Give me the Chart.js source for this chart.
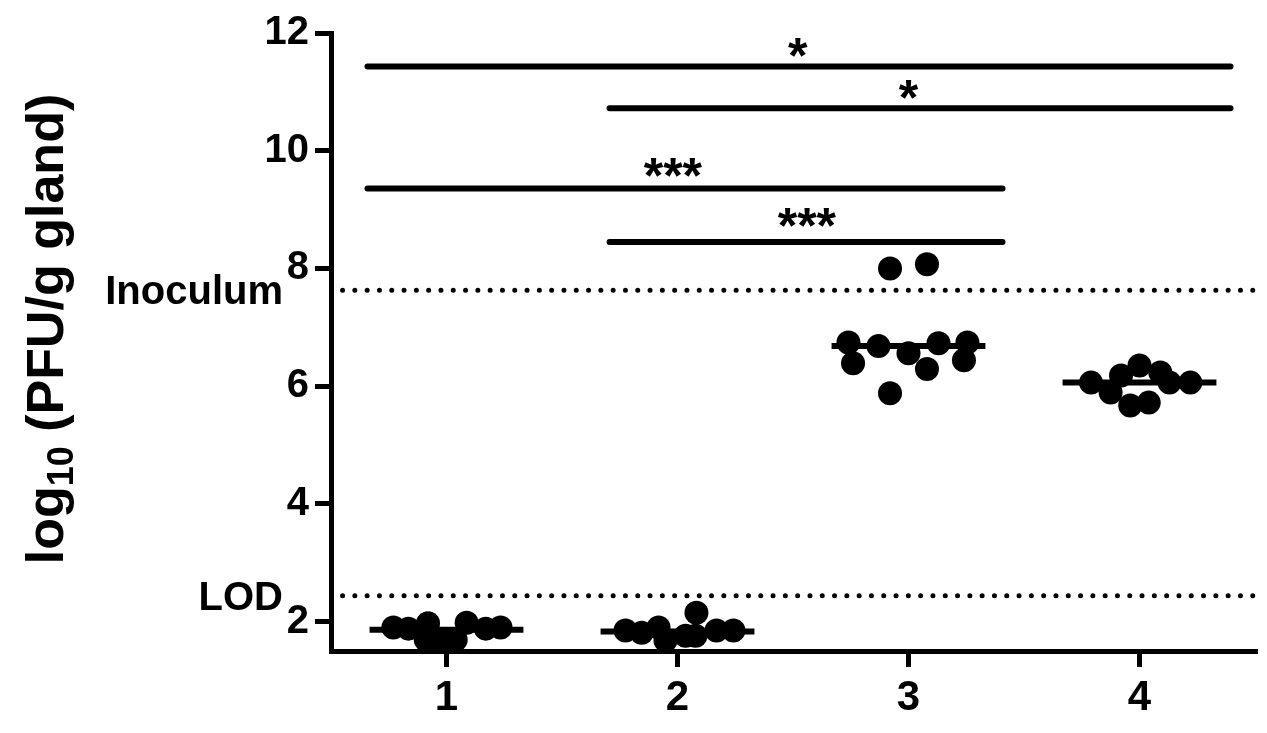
<!DOCTYPE html>
<html>
<head>
<meta charset="utf-8">
<script src="https://cdn.jsdelivr.net/npm/chart.js@4.4.0/dist/chart.umd.min.js"></script>
<style>
  html, body { margin: 0; padding: 0; background: #fff; }
</style>
</head>
<body>
<canvas id="chart" width="1267" height="733"></canvas>
<script>
const FAMILY = '"Liberation Sans", Arial, sans-serif';

// categories and axis ticks
const groups = [1, 2, 3, 4];
const yTicks = [2, 4, 6, 8, 10, 12];

// individual animals, x = category + horizontal spread
const group1X = [0.77, 0.835, 0.92, 0.91, 0.974, 1.04, 1.087, 1.17, 1.234];
const group1Y = [1.90, 1.88, 1.97, 1.69, 1.68, 1.69, 1.98, 1.88, 1.90];
const group2X = [1.775, 1.845, 1.918, 1.948, 2.035, 2.078, 2.082, 2.169, 2.242];
const group2Y = [1.85, 1.81, 1.90, 1.68, 1.76, 1.76, 2.15, 1.85, 1.85];
const group3X = [2.74, 2.87, 3.0, 3.13, 3.255, 2.76, 3.08, 3.24, 2.92, 2.92, 3.08];
const group3Y = [6.74, 6.68, 6.56, 6.73, 6.74, 6.39, 6.29, 6.44, 5.88, 8.00, 8.07];
const group4X = [3.79, 3.875, 3.92, 4.0, 4.09, 4.13, 4.22, 3.96, 4.04];
const group4Y = [6.06, 5.89, 6.18, 6.35, 6.23, 6.06, 6.06, 5.67, 5.72];
const medians = [1.86, 1.83, 6.68, 6.06];

// significance brackets
const sigStart = [0.658, 1.706, 0.658, 1.706];
const sigEnd = [4.394, 4.394, 3.407, 3.407];
const sigLevel = [11.43, 10.72, 9.36, 8.45];
const sigText = ['*', '*', '***', '***'];
const sigTextX = [2.52, 3.0, 1.98, 2.56];
const sigTextY = [11.80, 11.09, 9.76, 8.90];

// dotted reference lines
const refNames = ['Inoculum', 'LOD'];
const refLevels = [7.63, 2.44];

const pointSets = [[group1X, group1Y], [group2X, group2Y], [group3X, group3Y], [group4X, group4Y]];
const datasets = [];

refLevels.forEach(v => {
  datasets.push({
    type: 'line',
    data: [{x: 0.55, y: v}, {x: 4.5, y: v}],
    borderColor: '#000',
    borderWidth: 5,
    borderDash: [0, 12.3],
    borderCapStyle: 'round',
    pointRadius: 0,
    clip: false
  });
});

sigLevel.forEach((v, i) => {
  datasets.push({
    type: 'line',
    data: [{x: sigStart[i], y: v}, {x: sigEnd[i], y: v}],
    borderColor: '#000',
    borderWidth: 6,
    borderCapStyle: 'round',
    pointRadius: 0
  });
});

medians.forEach((m, i) => {
  datasets.push({
    type: 'line',
    data: [{x: groups[i] - 0.333, y: m}, {x: groups[i] + 0.333, y: m}],
    borderColor: '#000',
    borderWidth: 6,
    pointRadius: 0
  });
});

pointSets.forEach(([xs, ys]) => {
  datasets.push({
    type: 'scatter',
    data: xs.map((x, i) => ({x: x, y: ys[i]})),
    backgroundColor: '#000',
    borderWidth: 0,
    pointRadius: 12,
    clip: false
  });
});

const annotate = {
  id: 'annotate',
  afterDatasetsDraw(chart) {
    const {ctx, chartArea, scales: {x, y}} = chart;
    ctx.save();
    ctx.fillStyle = '#000';

    // stars over the brackets
    ctx.font = 'bold 50px ' + FAMILY;
    ctx.textAlign = 'center';
    ctx.textBaseline = 'alphabetic';
    sigText.forEach((t, i) => {
      ctx.fillText(t, x.getPixelForValue(sigTextX[i]), y.getPixelForValue(sigTextY[i]) + 28);
    });

    // labels of the dotted lines
    ctx.font = 'bold 40px ' + FAMILY;
    ctx.textAlign = 'right';
    refNames.forEach((t, i) => {
      ctx.fillText(t, chartArea.left - 48, y.getPixelForValue(refLevels[i]) + 14);
    });

    // y title with subscript
    const main = 'bold 52px ' + FAMILY;
    const sub = 'bold 36px ' + FAMILY;
    ctx.font = main;
    const w1 = ctx.measureText('log').width;
    const w3 = ctx.measureText(' (PFU/g gland)').width;
    ctx.font = sub;
    const w2 = ctx.measureText('10').width;
    const start = -(w1 + w2 + w3) / 2;
    ctx.translate(63, 329);
    ctx.rotate(-Math.PI / 2);
    ctx.textAlign = 'left';
    ctx.font = main;
    ctx.fillText('log', start, 0);
    ctx.font = sub;
    ctx.fillText('10', start + w1, 10);
    ctx.font = main;
    ctx.fillText(' (PFU/g gland)', start + w1 + w2, 0);
    ctx.restore();
  }
};

new Chart(document.getElementById('chart'), {
  type: 'scatter',
  data: { datasets: datasets },
  options: {
    responsive: false,
    animation: false,
    layout: { padding: { left: 0, right: 11, top: 33, bottom: 0 } },
    plugins: { legend: { display: false }, tooltip: { enabled: false } },
    scales: {
      x: {
        type: 'linear',
        min: 0.5,
        max: 4.5,
        afterBuildTicks: s => { s.ticks = groups.map(v => ({ value: v })); },
        afterFit: s => { s.height = 82; },
        grid: { display: true, drawOnChartArea: false, drawTicks: true, tickLength: 16, lineWidth: 5, color: '#000' },
        border: { display: true, width: 5, color: '#000' },
        ticks: { color: '#000', padding: 6, font: { family: FAMILY, size: 42, weight: 'bold' } }
      },
      y: {
        min: 1.5,
        max: 12,
        afterBuildTicks: s => { s.ticks = yTicks.map(v => ({ value: v })); },
        afterFit: s => { s.width = 331; },
        grid: { display: true, drawOnChartArea: false, drawTicks: true, tickLength: 16, lineWidth: 5, color: '#000' },
        border: { display: true, width: 5, color: '#000' },
        ticks: { color: '#000', padding: 6, font: { family: FAMILY, size: 40, weight: 'bold' } }
      }
    }
  },
  plugins: [annotate]
});
</script>
</body>
</html>
